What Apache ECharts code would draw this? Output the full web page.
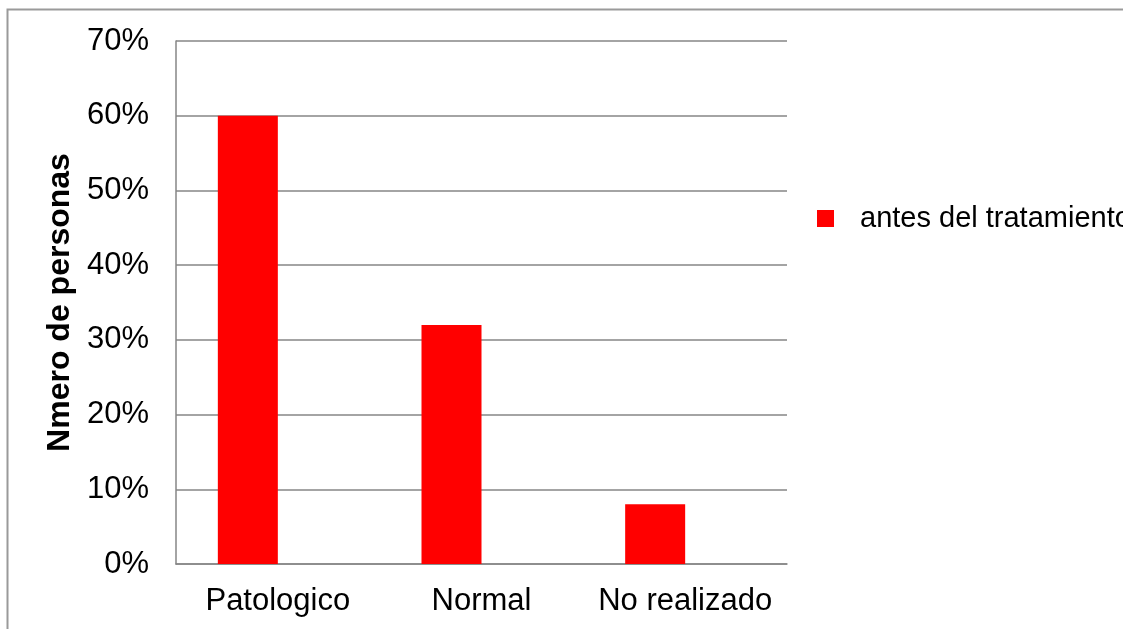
<!DOCTYPE html>
<html>
<head>
<meta charset="utf-8">
<script src="https://cdn.jsdelivr.net/npm/echarts@6/dist/echarts.min.js"></script>
<style>
  html, body { margin: 0; padding: 0; background: #fff; }
  #chart { width: 1123px; height: 629px; }
</style>
</head>
<body>
<div id="chart"></div>
<script>
// Resultados antes del tratamiento (porcentaje de personas)
const categories = ['Patologico', 'Normal', 'No realizado'];
const antesValues = [60, 32, 8];
// Columna vacía que ocupa el segundo hueco de cada grupo
const emptyValues = [null, null, null];
const yTicks = { min: 0, max: 70, interval: 10 };

const FONT = '"Liberation Sans", Arial, sans-serif';
const GRID_COLOR = '#868686';

const chart = echarts.init(document.getElementById('chart'), null, { renderer: 'canvas' });

chart.setOption({
  animation: false,
  backgroundColor: '#ffffff',
  textStyle: { fontFamily: FONT },
  graphic: [{
    type: 'rect',
    silent: true,
    shape: { x: 7.5, y: 9.5, width: 1300, height: 800 },
    style: { fill: 'none', stroke: '#9a9a9a', lineWidth: 2 }
  }],
  grid: { left: 176, right: 336, top: 41, bottom: 65, containLabel: false },
  legend: {
    data: ['antes del tratamiento'],
    left: 812,
    top: 199,
    itemWidth: 17,
    itemHeight: 17,
    icon: 'rect',
    textStyle: { fontFamily: FONT, fontSize: 29, color: '#000', padding: [0, 0, 0, 21] }
  },
  xAxis: {
    type: 'category',
    data: categories,
    axisLine: { lineStyle: { color: GRID_COLOR, width: 1.5 } },
    axisTick: { show: false },
    axisLabel: { fontFamily: FONT, fontSize: 31, color: '#000', margin: 22, interval: 0 }
  },
  yAxis: {
    type: 'value',
    min: yTicks.min,
    max: yTicks.max,
    interval: yTicks.interval,
    name: 'Nmero de personas',
    nameLocation: 'middle',
    nameRotate: 90,
    nameGap: 98,
    nameTextStyle: { fontFamily: FONT, fontSize: 32, fontWeight: 'bold', color: '#000' },
    axisLine: { show: true, lineStyle: { color: GRID_COLOR, width: 1.5 } },
    axisTick: { show: false },
    axisLabel: { fontFamily: FONT, fontSize: 31, color: '#000', margin: 27, formatter: '{value}%' },
    splitLine: { lineStyle: { color: GRID_COLOR, width: 1.5 } }
  },
  series: [
    {
      name: 'antes del tratamiento',
      type: 'bar',
      data: antesValues,
      barWidth: 60,
      barGap: '0%',
      itemStyle: { color: '#ff0000' }
    },
    {
      type: 'bar',
      data: emptyValues,
      barWidth: 60,
      itemStyle: { color: '#ff0000' }
    }
  ]
});
</script>
</body>
</html>
